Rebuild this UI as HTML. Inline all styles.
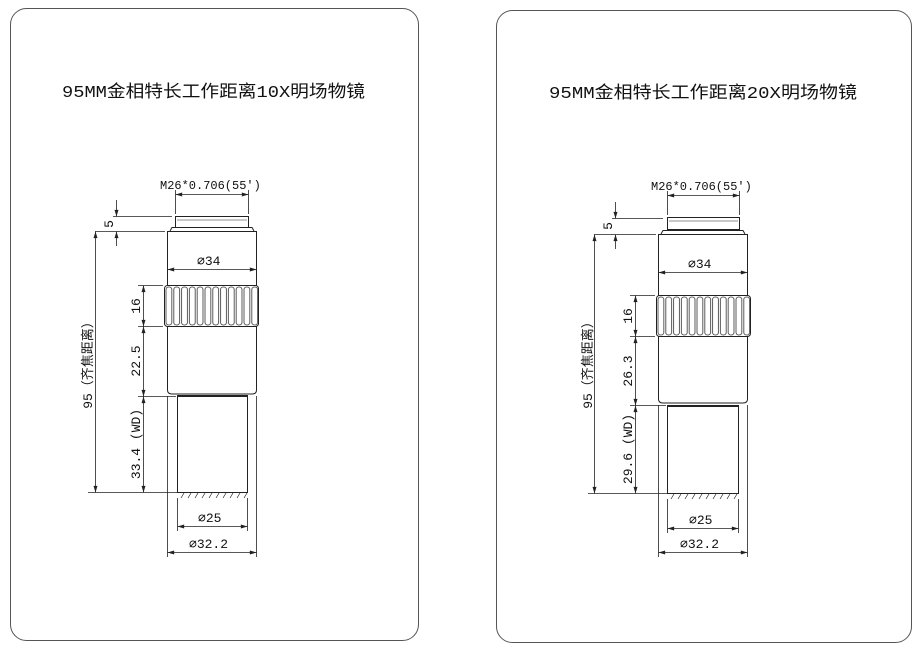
<!DOCTYPE html>
<html><head><meta charset="utf-8"><style>
html,body{margin:0;padding:0;background:#fff;width:919px;height:652px;overflow:hidden}
svg{display:block}
text{font-family:"Liberation Mono","Noto Sans CJK SC",monospace;fill:#111}
</style></head><body>
<svg width="919" height="652" viewBox="0 0 919 652" xmlns="http://www.w3.org/2000/svg">
<defs>
<marker id="a" viewBox="0 0 10 6" refX="10" refY="3" markerWidth="8" markerHeight="4" orient="auto-start-reverse" markerUnits="userSpaceOnUse"><path d="M0,0 L10,3 L0,6z" fill="#222"/></marker>
<pattern id="ribL" x="165" y="285.5" width="7.8" height="41" patternUnits="userSpaceOnUse">
<rect x="1" y="1.5" width="5.8" height="38" rx="2.5" fill="none" stroke="#333" stroke-width="0.8"/>
</pattern>
<pattern id="ribR" x="657" y="295.5" width="7.8" height="41" patternUnits="userSpaceOnUse">
<rect x="1" y="1.5" width="5.8" height="38" rx="2.5" fill="none" stroke="#333" stroke-width="0.8"/>
</pattern>
</defs>
<g fill="none" stroke="#555" stroke-width="1">
<rect x="10.5" y="8.5" width="408" height="632" rx="16"/>
<rect x="496.5" y="10.5" width="415" height="632" rx="16"/>
</g>
<text x="62" y="97" font-size="17" textLength="303" lengthAdjust="spacingAndGlyphs">95MM金相特长工作距离10X明场物镜</text>
<text x="549" y="98" font-size="17" textLength="308" lengthAdjust="spacingAndGlyphs">95MM金相特长工作距离20X明场物镜</text>

<!-- LEFT -->
<g stroke="#222" stroke-width="1" fill="none">
<rect x="175.5" y="216.5" width="73" height="11"/>
<line x1="177" y1="220" x2="247" y2="220" stroke-width="0.6"/>
<path d="M170,231 L172,227.5 L252,227.5 L254,231"/>
<path d="M167.5,231.5 H256.5 V390 Q256.5,394 252,394 H172 Q167.5,394 167.5,390 Z"/>
<rect x="164.5" y="285.5" width="94" height="41" rx="3" fill="#fff"/>
<rect x="165" y="285.5" width="93" height="41" fill="url(#ribL)" stroke="none"/>
<rect x="177.5" y="396.5" width="70" height="96"/>
<line x1="177" y1="395.5" x2="248" y2="395.5"/>
<path d="M181,498 l3,-5 M188,498 l3,-5 M195,498 l3,-5 M202,498 l3,-5 M209,498 l3,-5 M216,498 l3,-5 M223,498 l3,-5 M230,498 l3,-5 M237,498 l3,-5 M244,498 l3,-5" stroke-width="0.7"/>
</g>
<g stroke="#222" stroke-width="0.8" fill="none">
<line x1="175.5" y1="190" x2="175.5" y2="214"/><line x1="248.5" y1="190" x2="248.5" y2="214"/>
<line x1="167.5" y1="262" x2="167.5" y2="283"/><line x1="256.5" y1="262" x2="256.5" y2="283"/>
<line x1="177.5" y1="498" x2="177.5" y2="531"/><line x1="247.5" y1="498" x2="247.5" y2="531"/>
<line x1="167.5" y1="396" x2="167.5" y2="557"/><line x1="256.5" y1="396" x2="256.5" y2="557"/>
<line x1="113" y1="216.5" x2="172" y2="216.5"/><line x1="95" y1="231.5" x2="165" y2="231.5"/>
<line x1="138" y1="285.5" x2="163" y2="285.5"/><line x1="138" y1="326.5" x2="163" y2="326.5"/>
<line x1="138" y1="396.5" x2="176" y2="396.5"/><line x1="88" y1="492.5" x2="177" y2="492.5"/>
<line x1="175.5" y1="194.5" x2="248.5" y2="194.5" marker-start="url(#a)" marker-end="url(#a)"/>
<line x1="167.5" y1="269.5" x2="256.5" y2="269.5" marker-start="url(#a)" marker-end="url(#a)"/>
<line x1="177.5" y1="526.5" x2="247.5" y2="526.5" marker-start="url(#a)" marker-end="url(#a)"/>
<line x1="167.5" y1="552.5" x2="256.5" y2="552.5" marker-start="url(#a)" marker-end="url(#a)"/>
<line x1="116.5" y1="200" x2="116.5" y2="216.5" marker-end="url(#a)"/>
<line x1="116.5" y1="246" x2="116.5" y2="231.5" marker-end="url(#a)"/>
<line x1="95.5" y1="231.5" x2="95.5" y2="492.5" marker-start="url(#a)" marker-end="url(#a)"/>
<line x1="143.5" y1="285.5" x2="143.5" y2="326.5" marker-start="url(#a)" marker-end="url(#a)"/>
<line x1="143.5" y1="326.5" x2="143.5" y2="396.5" marker-start="url(#a)" marker-end="url(#a)"/>
<line x1="143.5" y1="396.5" x2="143.5" y2="492.5" marker-start="url(#a)" marker-end="url(#a)"/>
</g>
<g font-size="13">
<text x="160" y="189" font-size="12">M26*0.706(55′)</text>
<text x="197" y="265">⌀34</text>
<text x="198" y="522">⌀25</text>
<text x="189" y="548">⌀32.2</text>
<text transform="translate(113,224) rotate(-90)" text-anchor="middle">5</text>
<text transform="translate(92,362) rotate(-90)" text-anchor="middle">95（齐焦距离）</text>
<text transform="translate(140,306) rotate(-90)" text-anchor="middle">16</text>
<text transform="translate(140,361) rotate(-90)" text-anchor="middle">22.5</text>
<text transform="translate(140,444) rotate(-90)" text-anchor="middle">33.4 (WD)</text>
</g>

<!-- RIGHT -->
<g stroke="#222" stroke-width="1" fill="none">
<rect x="667.5" y="217.5" width="72" height="12"/>
<line x1="669" y1="221" x2="738" y2="221" stroke-width="0.6"/>
<path d="M661,234 L663,230.5 L743,230.5 L745,234"/>
<path d="M658.5,234.5 H747.5 V399 Q747.5,403 743,403 H663 Q658.5,403 658.5,399 Z"/>
<rect x="656.5" y="295.5" width="94" height="41" rx="3" fill="#fff"/>
<rect x="657" y="295.5" width="93" height="41" fill="url(#ribR)" stroke="none"/>
<rect x="667.5" y="406.5" width="71" height="87"/>
<line x1="667" y1="405.5" x2="739" y2="405.5"/>
<path d="M671,499 l3,-5 M678,499 l3,-5 M685,499 l3,-5 M692,499 l3,-5 M699,499 l3,-5 M706,499 l3,-5 M713,499 l3,-5 M720,499 l3,-5 M727,499 l3,-5 M734,499 l3,-5" stroke-width="0.7"/>
</g>
<g stroke="#222" stroke-width="0.8" fill="none">
<line x1="667.5" y1="191" x2="667.5" y2="215"/><line x1="739.5" y1="191" x2="739.5" y2="215"/>
<line x1="658.5" y1="265" x2="658.5" y2="293"/><line x1="747.5" y1="265" x2="747.5" y2="293"/>
<line x1="667.5" y1="499" x2="667.5" y2="533"/><line x1="738.5" y1="499" x2="738.5" y2="533"/>
<line x1="658.5" y1="405" x2="658.5" y2="557"/><line x1="747.5" y1="405" x2="747.5" y2="557"/>
<line x1="612" y1="218.5" x2="663" y2="218.5"/><line x1="594" y1="234.5" x2="656" y2="234.5"/>
<line x1="630" y1="295.5" x2="655" y2="295.5"/><line x1="630" y1="336.5" x2="655" y2="336.5"/>
<line x1="630" y1="405.5" x2="666" y2="405.5"/><line x1="588" y1="493.5" x2="667" y2="493.5"/>
<line x1="667.5" y1="195.5" x2="739.5" y2="195.5" marker-start="url(#a)" marker-end="url(#a)"/>
<line x1="658.5" y1="272.5" x2="747.5" y2="272.5" marker-start="url(#a)" marker-end="url(#a)"/>
<line x1="667.5" y1="528.5" x2="738.5" y2="528.5" marker-start="url(#a)" marker-end="url(#a)"/>
<line x1="658.5" y1="552.5" x2="747.5" y2="552.5" marker-start="url(#a)" marker-end="url(#a)"/>
<line x1="615.5" y1="202" x2="615.5" y2="218.5" marker-end="url(#a)"/>
<line x1="615.5" y1="249" x2="615.5" y2="234.5" marker-end="url(#a)"/>
<line x1="594.5" y1="234.5" x2="594.5" y2="493.5" marker-start="url(#a)" marker-end="url(#a)"/>
<line x1="635.5" y1="295.5" x2="635.5" y2="336.5" marker-start="url(#a)" marker-end="url(#a)"/>
<line x1="635.5" y1="336.5" x2="635.5" y2="405.5" marker-start="url(#a)" marker-end="url(#a)"/>
<line x1="635.5" y1="405.5" x2="635.5" y2="493.5" marker-start="url(#a)" marker-end="url(#a)"/>
</g>
<g font-size="13">
<text x="651" y="190" font-size="12">M26*0.706(55′)</text>
<text x="688" y="268">⌀34</text>
<text x="689" y="524">⌀25</text>
<text x="680" y="548">⌀32.2</text>
<text transform="translate(612,226) rotate(-90)" text-anchor="middle">5</text>
<text transform="translate(592,362) rotate(-90)" text-anchor="middle">95（齐焦距离）</text>
<text transform="translate(632,316) rotate(-90)" text-anchor="middle">16</text>
<text transform="translate(632,371) rotate(-90)" text-anchor="middle">26.3</text>
<text transform="translate(632,449) rotate(-90)" text-anchor="middle">29.6 (WD)</text>
</g>
</svg>
</body></html>
